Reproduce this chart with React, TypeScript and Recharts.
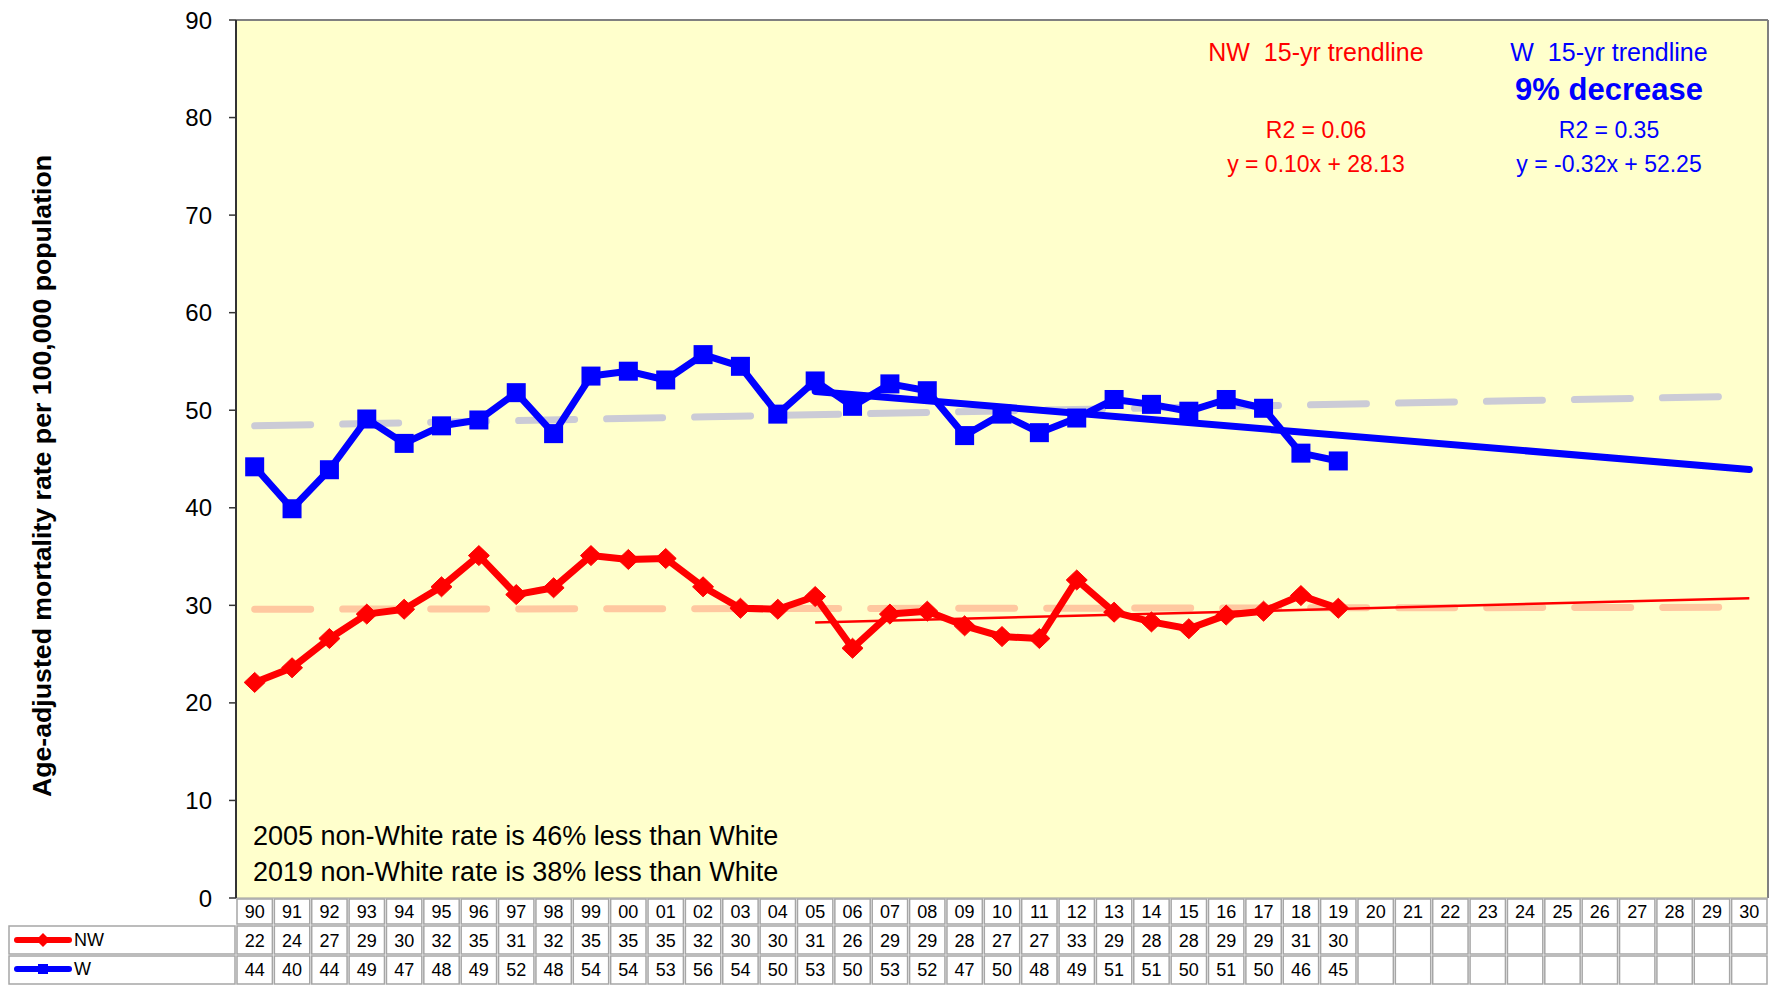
import React from 'react';
import { LineChart, Line, XAxis, YAxis, CartesianGrid, Customized } from 'recharts';

// ---------- data ----------
const years = ['90','91','92','93','94','95','96','97','98','99','00','01','02','03','04','05','06','07','08','09','10','11','12','13','14','15','16','17','18','19','20','21','22','23','24','25','26','27','28','29','30'];
const nwValues = [22.1, 23.6, 26.6, 29.1, 29.6, 31.9, 35.1, 31.1, 31.8, 35.1, 34.7, 34.8, 31.9, 29.7, 29.6, 30.9, 25.6, 29.1, 29.4, 27.9, 26.8, 26.6, 32.6, 29.3, 28.3, 27.6, 29.0, 29.4, 31.0, 29.7];
const wValues = [44.2, 39.9, 43.9, 49.1, 46.6, 48.4, 49.0, 51.8, 47.6, 53.5, 54.0, 53.1, 55.7, 54.5, 49.6, 53.0, 50.4, 52.7, 52.0, 47.4, 49.6, 47.7, 49.2, 51.1, 50.6, 49.9, 51.1, 50.2, 45.6, 44.8];
const nwTable = ['22','24','27','29','30','32','35','31','32','35','35','35','32','30','30','31','26','29','29','28','27','27','33','29','28','28','29','29','31','30'];
const wTable = ['44','40','44','49','47','48','49','52','48','54','54','53','56','54','50','53','50','53','52','47','50','48','49','51','51','50','51','50','46','45'];
// trendline endpoints (year label -> value)
const nwTrendYears = ['05', '30'];
const nwTrendValues = [28.23, 30.73];
const wTrendYears = ['05', '30'];
const wTrendValues = [51.93, 43.93];
const wLongYears = ['90', '30'];
const wLongValues = [48.4, 51.45];
const nwLongYears = ['90', '30'];
const nwLongValues = [29.6, 29.8];
const yTicks = [0, 10, 20, 30, 40, 50, 60, 70, 80, 90];

const pick = (ys: string[], vs: number[], yr: string) => {
  const k = ys.indexOf(yr);
  return k >= 0 ? vs[k] : null;
};

const data = years.map((yr, i) => ({
  yr,
  nw: i < nwValues.length ? nwValues[i] : null,
  w: i < wValues.length ? wValues[i] : null,
  nwTrend: pick(nwTrendYears, nwTrendValues, yr),
  wTrend: pick(wTrendYears, wTrendValues, yr),
  wLong: pick(wLongYears, wLongValues, yr),
  nwLong: pick(nwLongYears, nwLongValues, yr),
}));

// ---------- layout ----------
const W = 1775;
const H = 985;
const PL = 236;
const PR = 1768;
const PT = 20;
const PB = 898;
const BW = (PR - PL) / years.length;
const FONT = "'Liberation Sans', Arial, Helvetica, sans-serif";
const RED = '#FF0000';
const BLUE = '#0000FF';
const CELL = '#A6A6A6';

const Diamond = (props: any) => {
  const { cx, cy, index } = props;
  if (cx == null || cy == null || Number.isNaN(cy)) return <g key={`nd${index}`} />;
  return (
    <path
      key={`nd${index}`}
      d={`M${cx},${cy - 10} L${cx + 10.5},${cy} L${cx},${cy + 10} L${cx - 10.5},${cy} Z`}
      fill={RED}
      stroke={RED}
      strokeWidth={1}
    />
  );
};

const Square = (props: any) => {
  const { cx, cy, index } = props;
  if (cx == null || cy == null || Number.isNaN(cy)) return <g key={`ws${index}`} />;
  return <rect key={`ws${index}`} x={cx - 9.5} y={cy - 9.5} width={19} height={19} fill={BLUE} />;
};

const TableTick = (props: any) => {
  const { x, payload } = props;
  const i = payload && payload.index != null ? payload.index : years.indexOf(payload.value);
  const left = x - BW / 2;
  const rows = [
    { y0: 899, y1: 924, text: years[i], base: 918 },
    { y0: 926, y1: 954, text: nwTable[i] ?? '', base: 947 },
    { y0: 956, y1: 984, text: wTable[i] ?? '', base: 976 },
  ];
  return (
    <g>
      {rows.map((r, k) => (
        <g key={k}>
          <rect x={left + 1} y={r.y0} width={BW - 2} height={r.y1 - r.y0} fill="#FFFFFF" stroke={CELL} strokeWidth={1.5} />
          <text x={x} y={r.base} textAnchor="middle" fontSize={18} fontFamily={FONT} fill="#000">{r.text}</text>
        </g>
      ))}
    </g>
  );
};

const PRE = { whiteSpace: 'pre' as const };

const Overlay = () => (
  <g>
    {/* plot border */}
    <line x1={PL} y1={PT} x2={PR} y2={PT} stroke="#808080" strokeWidth={2} />
    <line x1={PR} y1={PT} x2={PR} y2={PB} stroke="#808080" strokeWidth={2} />
    <line x1={PL} y1={PB} x2={PR} y2={PB} stroke="#9A9A9A" strokeWidth={1} />
    {/* y-axis title */}
    <text
      transform={`translate(51,476) rotate(-90)`}
      textAnchor="middle"
      fontSize={26.7}
      fontWeight="bold"
      fontFamily={FONT}
      fill="#000"
    >
      Age-adjusted mortality rate per 100,000 population
    </text>
    {/* trendline annotations */}
    <g fontFamily={FONT} textAnchor="middle">
      <text x={1316} y={61} fontSize={25} fill={RED} xmlSpace="preserve" style={PRE}>{'NW\u00A0 15-yr trendline'}</text>
      <text x={1316} y={138} fontSize={23} fill={RED}>R2 = 0.06</text>
      <text x={1316} y={172} fontSize={23} fill={RED}>y = 0.10x + 28.13</text>
      <text x={1609} y={61} fontSize={25} fill={BLUE} xmlSpace="preserve" style={PRE}>{'W\u00A0 15-yr trendline'}</text>
      <text x={1609} y={100} fontSize={31} fontWeight="bold" fill={BLUE}>9% decrease</text>
      <text x={1609} y={138} fontSize={23} fill={BLUE}>R2 = 0.35</text>
      <text x={1609} y={172} fontSize={23} fill={BLUE}>y = -0.32x + 52.25</text>
    </g>
    <g fontFamily={FONT} fontSize={27} fill="#000">
      <text x={253} y={845}>2005 non-White rate is 46% less than White</text>
      <text x={253} y={881}>2019 non-White rate is 38% less than White</text>
    </g>
    {/* table legend column */}
    <rect x={9} y={926} width={PL - 10} height={28} fill="#FFFFFF" stroke={CELL} strokeWidth={1.5} />
    <rect x={9} y={956} width={PL - 10} height={28} fill="#FFFFFF" stroke={CELL} strokeWidth={1.5} />
    <line x1={17} y1={940} x2={69} y2={940} stroke={RED} strokeWidth={6} strokeLinecap="round" />
    <path d="M43,933 L50,940 L43,947 L36,940 Z" fill={RED} />
    <text x={74} y={946} fontSize={18} fontFamily={FONT} fill="#000">NW</text>
    <line x1={17} y1={969} x2={69} y2={969} stroke={BLUE} strokeWidth={6} strokeLinecap="round" />
    <rect x={38} y={964} width={10} height={10} fill={BLUE} />
    <text x={74} y={975} fontSize={18} fontFamily={FONT} fill="#000">W</text>
  </g>
);

export default function App() {
  return (
    <div style={{ width: W, height: H, background: '#FFFFFF' }}>
      <style>{`body{margin:0;}`}</style>
      <LineChart
        width={W}
        height={H}
        data={data}
        margin={{ top: PT, right: W - PR, bottom: 0, left: 0 }}
      >
        <CartesianGrid horizontal={false} vertical={false} fill="#FFFFCC" />
        <XAxis
          dataKey="yr"
          interval={0}
          padding={{ left: BW / 2, right: BW / 2 }}
          height={H - PB}
          axisLine={false}
          tickLine={false}
          tickSize={0}
          tickMargin={0}
          tick={<TableTick />}
        />
        <YAxis
          domain={[0, 90]}
          ticks={yTicks}
          width={PL}
          axisLine={{ stroke: '#333333', strokeWidth: 2 }}
          tickLine={{ stroke: '#333333', strokeWidth: 1.5 }}
          tickSize={7}
          tickMargin={17}
          tick={{ fontSize: 24, fontFamily: FONT, fill: '#000' }}
        />
        <Line dataKey="wLong" stroke="#CBCBD6" strokeWidth={7} strokeDasharray="56 32" strokeLinecap="round" dot={false} connectNulls isAnimationActive={false} />
        <Line dataKey="nwLong" stroke="#FFC8A0" strokeWidth={7} strokeDasharray="56 32" strokeLinecap="round" dot={false} connectNulls isAnimationActive={false} />
        <Line dataKey="nw" stroke={RED} strokeWidth={7} strokeLinejoin="round" dot={<Diamond />} activeDot={false} isAnimationActive={false} />
        <Line dataKey="w" stroke={BLUE} strokeWidth={7} strokeLinejoin="round" dot={<Square />} activeDot={false} isAnimationActive={false} />
        <Line dataKey="nwTrend" stroke={RED} strokeWidth={2.5} dot={false} connectNulls isAnimationActive={false} />
        <Line dataKey="wTrend" stroke={BLUE} strokeWidth={7} strokeLinecap="round" dot={false} connectNulls isAnimationActive={false} />
        <Customized component={Overlay} />
      </LineChart>
    </div>
  );
}
